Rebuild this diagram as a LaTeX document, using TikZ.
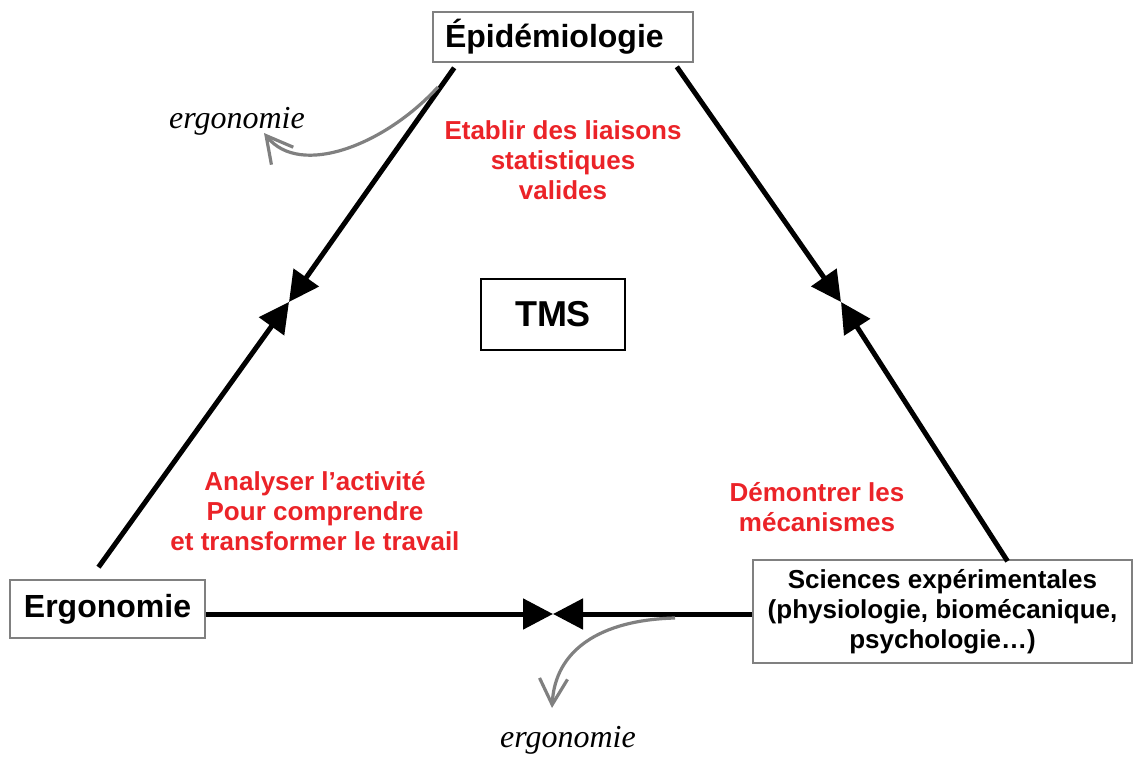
\documentclass[tikz,border=0pt]{standalone}
\usepackage{fontspec}
\setmainfont{Liberation Sans}
\newfontfamily\ergoserif{Liberation Serif}
\usetikzlibrary{arrows.meta}
\definecolor{liaisonred}{RGB}{235,35,40}

\begin{document}
\begin{tikzpicture}[x=0.5pt, y=-0.5pt,
  box/.style={rectangle, draw=gray, line width=0.8pt, fill=white, inner sep=2pt, font=\bfseries\fontsize{16}{19}\selectfont},
  redtext/.style={text=liaisonred, align=center, font=\bfseries\fontsize{13}{15}\selectfont},
  flow/.style={line width=2.5pt, -{Triangle[length=15pt,width=15pt]}},
  side/.style={draw=gray, line width=1.6pt, -{Straight Barb[length=13pt,width=14pt]}},
  note/.style={font=\ergoserif\itshape\fontsize{16}{19}\selectfont}]
\useasboundingbox (0,0) rectangle (1134,758);

\node [box, minimum height=25pt, inner xsep=6pt, text width=118pt, align=left] (epi) at (563,37) {Épidémiologie};
\node [box, draw=black, minimum width=72pt, minimum height=35.5pt, font=\bfseries\fontsize{18}{21}\selectfont] (tms) at (553,314.5) {TMS};
\node [box, minimum width=97.5pt, minimum height=29pt] (ergo) at (107.5,609) {Ergonomie};
\node [box, minimum width=189.5pt, minimum height=51.5pt, align=center, font=\bfseries\fontsize{13}{15}\selectfont] (sci) at (942.5,611.5) {Sciences expérimentales\\ (physiologie, biomécanique,\\ psychologie…)};

\node [redtext] (etablir) at (563,160) {Etablir des liaisons\\ statistiques\\ valides};
\node [redtext] (analyser) at (315,511) {Analyser l’activité\\ Pour comprendre\\ et transformer le travail};
\node [redtext] (demontrer) at (817,507) {Démontrer les\\ mécanismes};

\node [note] (ergoA) at (237,121) {ergonomie};
\node [note] (ergoB) at (568,740) {ergonomie};

% meeting points of the arrows
\coordinate (midL) at (289,302);
\coordinate (midR) at (841,302);
\coordinate (midB) at (553,614);

\draw [flow] ([shift={(22,5)}]epi.south west) -- (midL);
\draw [flow] ([shift={(-9,-12)}]ergo.north) -- (midL);
\draw [flow] ([shift={(-17,4)}]epi.south east) -- (midR);
\draw [flow] ([shift={(65,2)}]sci.north) -- (midR);
\draw [flow] (ergo.east |- midB) -- (midB);
\draw [flow] (sci.west |- midB) -- (midB);

% gray side arrows
\coordinate (outA) at (438,87);
\coordinate (tipA) at (264,133);
\coordinate (outB) at (675,618);
\coordinate (tipB) at (552,708);
\draw [side] (outA) .. controls (385,145) and (300,178) .. (tipA);
\draw [side] (outB) .. controls (600,620) and (555,650) .. (tipB);

\end{tikzpicture}
\end{document}
